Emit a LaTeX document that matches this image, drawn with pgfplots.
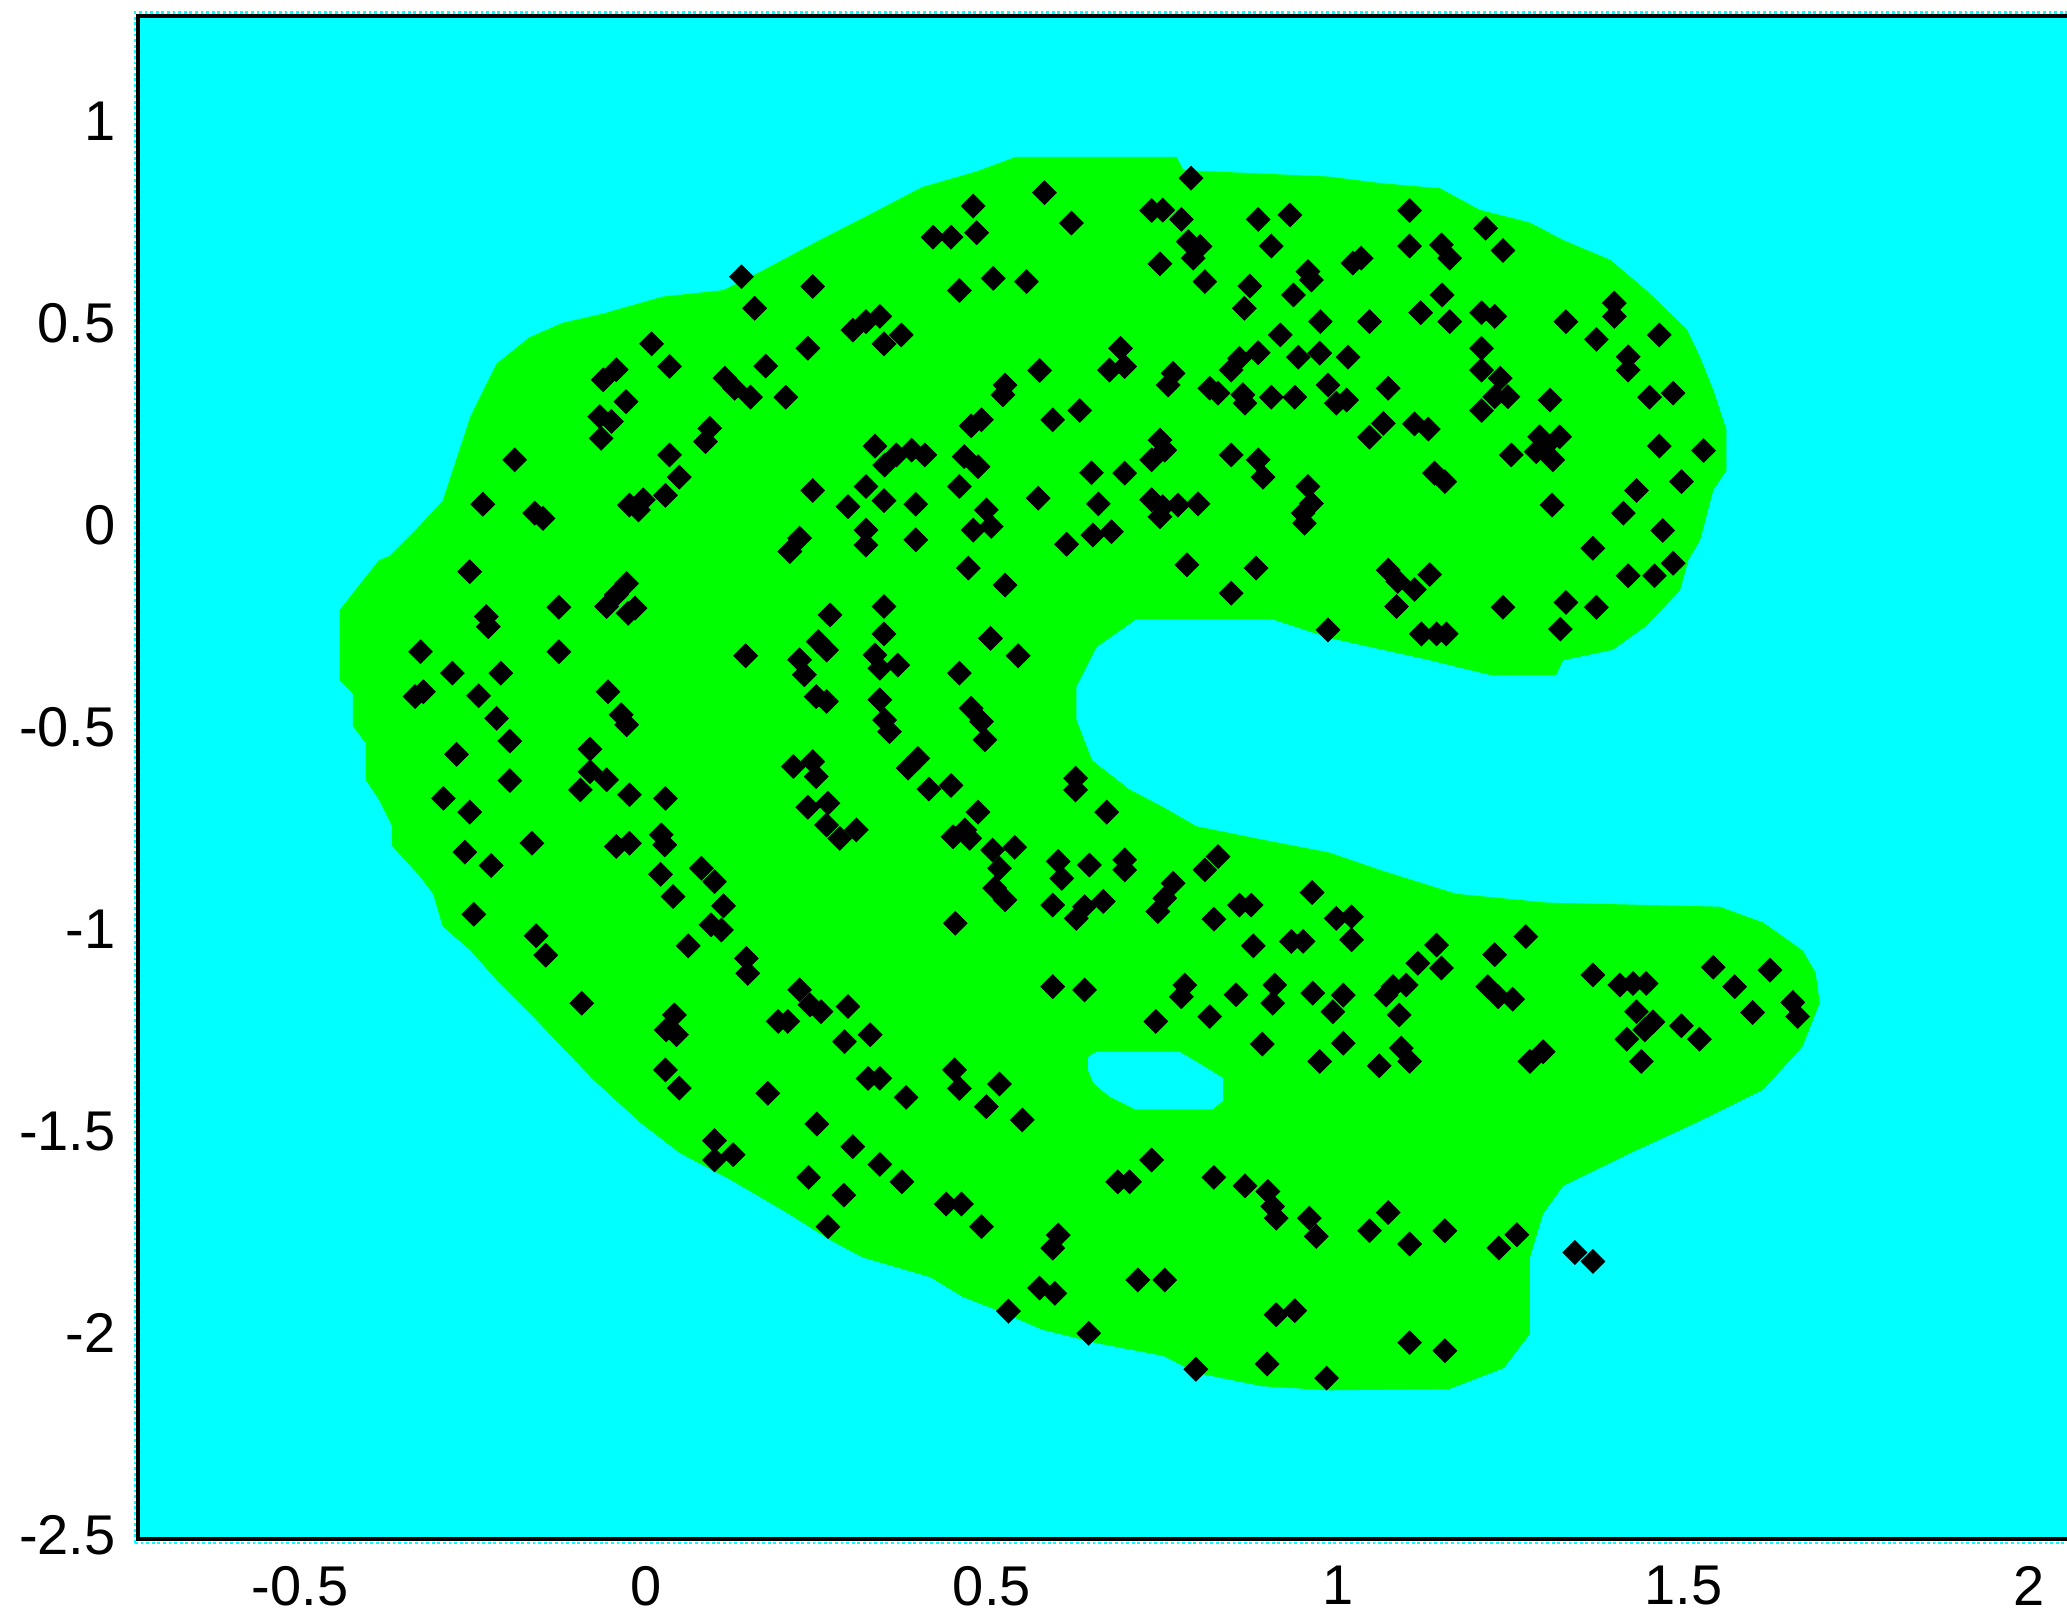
\documentclass[border=0pt]{standalone}
\usepackage{pgfplots}
\pgfplotsset{compat=1.18}
\usepackage{fontspec}
\setmainfont{Liberation Sans}
\definecolor{bgcyan}{RGB}{0,255,255}
\definecolor{regiongreen}{RGB}{0,255,0}
\begin{document}
\begin{tikzpicture}
\useasboundingbox (-34.6pt,-20.85pt) rectangle (482.15pt,384.85pt);
\begin{axis}[
  at={(0pt,0pt)}, anchor=south west,
  scale only axis, width=483.1pt, height=380.9pt,
  xmin=-0.734, xmax=2.06, ymin=-2.51, ymax=1.261,
  axis background/.style={fill=bgcyan},
  axis on top,
  axis line style={black, line width=1pt},
  major tick length=0pt,
  xtick={-0.5,0,0.5,1,1.5,2},
  xticklabels={-0.5,0,0.5,1,1.5,2},
  ytick={-2.5,-2,-1.5,-1,-0.5,0,0.5,1},
  yticklabels={-2.5,-2,-1.5,-1,-0.5,0,0.5,1},
  tick label style={font=\fontsize{14}{17}\selectfont},
  xticklabel style={anchor=north, inner sep=0pt, yshift=-6.5pt},
  yticklabel style={anchor=east, inner sep=0pt, xshift=-5.5pt},
  clip=true,
]
% green decision region
\addplot[fill=regiongreen, draw=none] coordinates {
(0.535,0.912)(0.767,0.912)(0.777,0.879)(0.988,0.863)(1.061,0.847)(1.148,0.834)(1.205,0.781)(1.278,0.749)(1.326,0.706)(1.394,0.657)(1.446,0.582)(1.505,0.485)(1.524,0.416)(1.543,0.335)(1.562,0.237)(1.562,0.136)(1.543,0.087)(1.524,-0.037)(1.507,-0.086)(1.495,-0.161)(1.446,-0.249)(1.398,-0.308)(1.326,-0.334)(1.316,-0.370)(1.219,-0.370)(1.133,-0.334)(0.988,-0.279)(0.906,-0.233)(0.708,-0.233)(0.651,-0.302)(0.622,-0.400)(0.622,-0.481)(0.645,-0.582)(0.699,-0.654)(0.746,-0.696)(0.796,-0.745)(0.891,-0.778)(0.988,-0.810)(1.061,-0.853)(1.171,-0.912)(1.303,-0.934)(1.552,-0.944)(1.615,-0.983)(1.672,-1.052)(1.691,-1.107)(1.697,-1.182)(1.672,-1.290)(1.615,-1.397)(1.518,-1.479)(1.423,-1.554)(1.326,-1.635)(1.297,-1.704)(1.278,-1.812)(1.278,-2.001)(1.240,-2.086)(1.196,-2.115)(1.161,-2.138)(0.988,-2.141)(0.891,-2.131)(0.796,-2.098)(0.748,-2.056)(0.651,-2.024)(0.573,-1.991)(0.506,-1.942)(0.458,-1.910)(0.411,-1.861)(0.313,-1.812)(0.266,-1.769)(0.203,-1.701)(0.121,-1.619)(0.049,-1.554)(-0.008,-1.479)(-0.077,-1.371)(-0.159,-1.224)(-0.216,-1.126)(-0.254,-1.052)(-0.294,-0.993)(-0.308,-0.912)(-0.327,-0.869)(-0.367,-0.794)(-0.367,-0.745)(-0.386,-0.680)(-0.405,-0.631)(-0.405,-0.540)(-0.424,-0.497)(-0.424,-0.416)(-0.443,-0.383)(-0.443,-0.210)(-0.424,-0.168)(-0.386,-0.086)(-0.371,-0.076)(-0.333,-0.011)(-0.294,0.061)(-0.273,0.171)(-0.254,0.269)(-0.235,0.335)(-0.216,0.400)(-0.169,0.465)(-0.121,0.501)(-0.062,0.524)(0.024,0.566)(0.112,0.582)(0.169,0.631)(0.251,0.706)(0.314,0.761)(0.399,0.837)(0.478,0.876)
} -- cycle;
% hole
\addplot[fill=bgcyan, draw=none] coordinates {
(0.639,-1.316)(0.651,-1.303)(0.771,-1.303)(0.800,-1.332)(0.834,-1.368)(0.834,-1.424)(0.819,-1.446)(0.708,-1.446)(0.670,-1.414)(0.647,-1.381)(0.639,-1.349)
} -- cycle;
% samples
\addplot[only marks, mark=square*, mark size=2.1pt, mark options={rotate=45, fill=black, draw=black, line width=0.2pt}] coordinates {
(0.138,0.615)(0.241,0.591)(0.157,0.537)(0.008,0.449)(0.034,0.393)(0.234,0.438)(0.173,0.394)(-0.062,0.360)(-0.043,0.385)(0.114,0.364)(0.128,0.339)(0.151,0.317)(0.202,0.317)(-0.029,0.306)(-0.067,0.269)(-0.050,0.257)(-0.065,0.215)(0.092,0.240)(0.086,0.207)(0.034,0.174)(0.048,0.119)(0.028,0.074)(-0.190,0.162)(-0.236,0.052)(-0.161,0.030)(-0.149,0.017)(-0.024,0.050)(-0.004,0.063)(-0.011,0.038)(0.241,0.086)(0.222,-0.032)(0.208,-0.065)
(0.576,0.823)(0.473,0.790)(0.788,0.859)(0.615,0.748)(0.415,0.713)(0.441,0.713)(0.478,0.724)(0.731,0.779)(0.747,0.780)(0.774,0.757)(0.885,0.757)(0.931,0.768)(0.784,0.702)(0.801,0.690)(0.791,0.661)(0.904,0.691)(0.743,0.647)(0.808,0.603)(0.957,0.628)(0.962,0.607)(0.873,0.592)(0.936,0.570)(0.865,0.537)(0.453,0.581)(0.502,0.611)(0.550,0.603)(0.299,0.483)(0.318,0.504)(0.338,0.517)(0.369,0.471)(0.344,0.449)(0.975,0.504)(0.917,0.471)(0.686,0.438)(0.670,0.384)(0.692,0.393)(0.569,0.383)(0.762,0.376)(0.755,0.347)(0.846,0.384)(0.858,0.413)(0.885,0.427)(0.943,0.416)(0.974,0.426)(0.519,0.347)(0.516,0.323)(0.815,0.339)(0.827,0.327)(0.863,0.323)(0.866,0.302)(0.904,0.317)(0.938,0.317)(0.986,0.347)(0.588,0.261)(0.627,0.284)(0.485,0.261)(0.470,0.246)(0.331,0.196)(0.345,0.149)(0.362,0.174)(0.384,0.186)(0.403,0.174)(0.460,0.170)(0.480,0.145)(0.743,0.211)(0.750,0.186)(0.731,0.162)(0.846,0.174)(0.885,0.162)(0.892,0.119)(0.644,0.130)(0.692,0.129)(0.318,0.096)(0.453,0.096)(0.957,0.096)(0.292,0.046)(0.344,0.061)(0.390,0.052)(0.567,0.067)(0.654,0.053)(0.731,0.063)(0.747,0.046)(0.769,0.050)(0.798,0.053)(0.743,0.021)(0.950,0.030)(0.962,0.054)(0.952,0.005)(0.492,0.038)(0.499,-0.003)(0.473,-0.012)(0.318,-0.012)(0.318,-0.049)(0.390,-0.036)(0.608,-0.047)(0.646,-0.024)(0.673,-0.016)
(1.104,0.779)(1.214,0.735)(1.104,0.691)(1.150,0.694)(1.162,0.661)(1.239,0.680)(1.022,0.649)(1.034,0.661)(1.151,0.570)(1.120,0.526)(1.046,0.504)(1.162,0.504)(1.208,0.526)(1.227,0.517)(1.330,0.504)(1.400,0.550)(1.400,0.517)(1.374,0.460)(1.465,0.471)(1.208,0.438)(1.208,0.384)(1.420,0.417)(1.420,0.384)(1.015,0.416)(1.073,0.339)(1.235,0.364)(1.227,0.318)(1.246,0.318)(1.208,0.284)(1.307,0.310)(1.451,0.317)(1.485,0.327)(0.998,0.302)(1.013,0.310)(1.066,0.252)(1.046,0.218)(1.111,0.251)(1.131,0.238)(1.292,0.219)(1.321,0.219)(1.251,0.174)(1.287,0.182)(1.311,0.162)(1.302,0.199)(1.465,0.196)(1.529,0.185)(1.140,0.129)(1.155,0.108)(1.497,0.108)(1.432,0.086)(1.310,0.050)(1.413,0.030)(1.470,-0.013)(1.369,-0.057)
(-0.255,-0.115)(-0.028,-0.144)(-0.043,-0.172)(-0.057,-0.201)(-0.016,-0.205)(-0.026,-0.218)(-0.126,-0.203)(-0.231,-0.226)(-0.228,-0.251)(0.266,-0.222)(-0.326,-0.313)(-0.126,-0.313)(0.144,-0.323)(0.249,-0.288)(0.261,-0.309)(0.222,-0.333)(0.229,-0.370)(-0.280,-0.366)(-0.210,-0.366)(-0.334,-0.424)(-0.322,-0.412)(-0.242,-0.422)(-0.055,-0.412)(0.246,-0.424)(0.261,-0.436)(-0.216,-0.478)(-0.036,-0.469)(-0.028,-0.494)(-0.197,-0.534)(-0.274,-0.567)(-0.081,-0.554)(-0.081,-0.610)(-0.057,-0.630)(-0.095,-0.655)(-0.197,-0.632)(-0.293,-0.676)(-0.024,-0.667)(0.028,-0.676)(-0.255,-0.710)(0.213,-0.597)(0.241,-0.585)(0.246,-0.622)(0.234,-0.698)(0.263,-0.688)(0.261,-0.742)(-0.165,-0.787)(-0.043,-0.795)(-0.024,-0.787)(0.022,-0.766)(0.027,-0.791)(-0.262,-0.809)(-0.224,-0.842)(0.021,-0.864)(0.080,-0.849)(0.099,-0.882)(0.039,-0.919)(0.112,-0.942)(0.094,-0.989)(0.109,-1.002)(-0.249,-0.963)(-0.159,-1.016)(-0.145,-1.064)(0.061,-1.041)(0.145,-1.072)(0.147,-1.109)
(0.466,-0.106)(0.519,-0.148)(0.782,-0.098)(0.882,-0.106)(0.846,-0.168)(0.344,-0.201)(0.344,-0.269)(0.498,-0.280)(0.538,-0.323)(0.331,-0.321)(0.338,-0.354)(0.364,-0.346)(0.453,-0.366)(0.986,-0.259)(0.338,-0.432)(0.470,-0.453)(0.485,-0.486)(0.490,-0.531)(0.345,-0.482)(0.352,-0.511)(0.393,-0.577)(0.379,-0.601)(0.409,-0.653)(0.441,-0.644)(0.621,-0.626)(0.621,-0.655)(0.666,-0.710)(0.480,-0.710)(0.304,-0.754)(0.280,-0.775)(0.444,-0.771)(0.461,-0.754)(0.468,-0.775)(0.501,-0.804)(0.533,-0.797)(0.511,-0.849)(0.596,-0.832)(0.601,-0.874)(0.641,-0.841)(0.692,-0.828)(0.692,-0.853)(0.827,-0.820)(0.808,-0.853)(0.504,-0.898)(0.519,-0.927)(0.762,-0.886)(0.750,-0.923)(0.740,-0.956)(0.588,-0.940)(0.622,-0.973)(0.634,-0.944)(0.661,-0.931)(0.858,-0.940)(0.875,-0.940)(0.963,-0.909)(0.821,-0.975)(0.447,-0.985)(0.878,-1.041)(0.933,-1.030)(0.950,-1.030)
(1.073,-0.111)(1.087,-0.139)(1.133,-0.122)(1.111,-0.159)(1.085,-0.201)(1.121,-0.269)(1.143,-0.269)(1.157,-0.269)(1.239,-0.203)(1.330,-0.191)(1.374,-0.203)(1.322,-0.257)(1.420,-0.125)(1.458,-0.125)(1.485,-0.094)(0.998,-0.973)(1.020,-0.969)(1.020,-1.026)(1.272,-1.018)(1.143,-1.039)(1.227,-1.063)(1.116,-1.084)(1.150,-1.096)(1.543,-1.094)(1.625,-1.101)(1.369,-1.113)
(-0.093,-1.183)(0.041,-1.212)(0.029,-1.249)(0.044,-1.261)(0.222,-1.150)(0.237,-1.187)(0.253,-1.204)(0.191,-1.228)(0.205,-1.228)(0.028,-1.348)(0.048,-1.393)(0.176,-1.406)(0.247,-1.482)(0.099,-1.523)(0.099,-1.571)(0.126,-1.558)(0.235,-1.614)(0.263,-1.736)
(0.292,-1.191)(0.287,-1.278)(0.324,-1.261)(0.588,-1.142)(0.634,-1.150)(0.779,-1.138)(0.774,-1.167)(0.853,-1.162)(0.909,-1.138)(0.906,-1.183)(0.964,-1.158)(0.737,-1.228)(0.815,-1.216)(0.891,-1.284)(0.974,-1.327)(0.321,-1.369)(0.338,-1.369)(0.376,-1.416)(0.446,-1.348)(0.453,-1.394)(0.511,-1.383)(0.492,-1.439)(0.544,-1.472)(0.299,-1.538)(0.338,-1.582)(0.370,-1.625)(0.286,-1.658)(0.434,-1.680)(0.456,-1.680)(0.485,-1.736)(0.596,-1.757)(0.588,-1.789)(0.731,-1.571)(0.682,-1.625)(0.699,-1.625)(0.821,-1.614)(0.866,-1.635)(0.899,-1.649)(0.906,-1.686)(0.911,-1.715)(0.959,-1.715)(0.969,-1.760)(0.711,-1.868)(0.750,-1.868)(0.569,-1.888)(0.591,-1.901)(0.524,-1.945)(0.640,-2.000)(0.911,-1.954)(0.938,-1.944)(0.795,-2.089)(0.898,-2.076)(0.984,-2.111)
(1.008,-1.163)(0.993,-1.204)(1.080,-1.142)(1.070,-1.163)(1.099,-1.138)(1.089,-1.212)(1.008,-1.282)(1.092,-1.294)(1.104,-1.327)(1.060,-1.338)(1.217,-1.142)(1.232,-1.167)(1.253,-1.173)(1.278,-1.327)(1.297,-1.303)(1.408,-1.138)(1.427,-1.134)(1.446,-1.134)(1.574,-1.142)(1.432,-1.204)(1.456,-1.229)(1.444,-1.249)(1.418,-1.272)(1.439,-1.327)(1.497,-1.239)(1.523,-1.272)(1.600,-1.206)(1.658,-1.181)(1.665,-1.216)(1.073,-1.701)(1.046,-1.746)(1.104,-1.779)(1.155,-1.746)(1.233,-1.789)(1.259,-1.756)(1.343,-1.800)(1.369,-1.822)(1.104,-2.023)(1.155,-2.043)
};
\end{axis}
\draw[bgcyan, line width=0.6pt, dash pattern=on 0.7pt off 0.7pt] (-0.85pt,-0.85pt) -- (-0.85pt,381.75pt) -- (484pt,381.75pt);
\draw[bgcyan, line width=0.6pt, dash pattern=on 0.7pt off 0.7pt] (-0.85pt,-0.85pt) -- (484pt,-0.85pt);
\end{tikzpicture}
\end{document}
